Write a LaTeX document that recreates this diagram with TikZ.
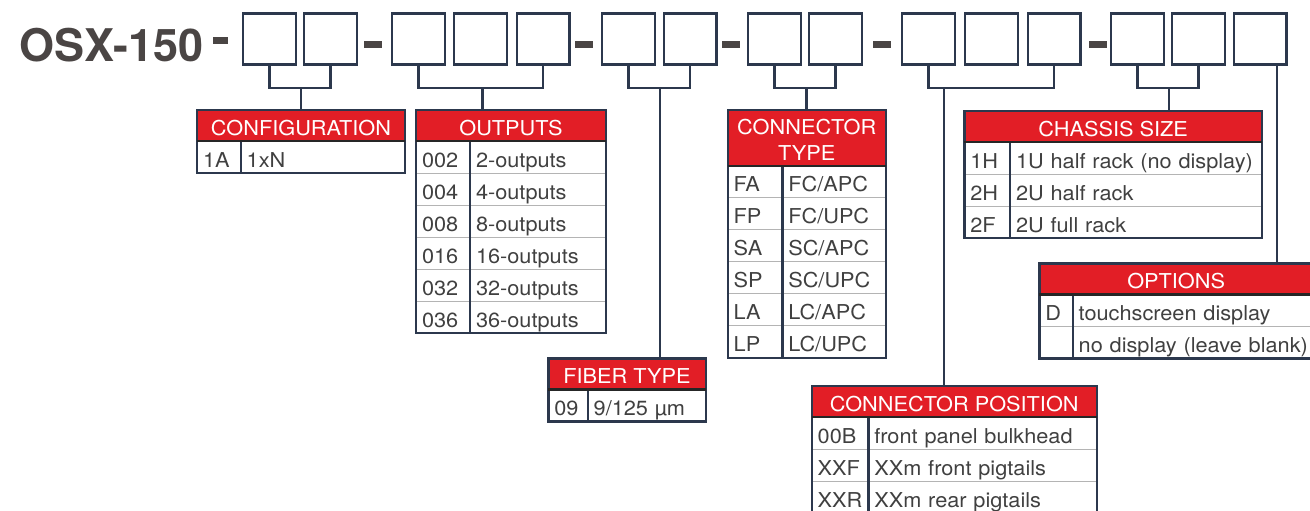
\documentclass[tikz,border=0pt]{standalone}
\usepackage{fontspec}
\setmainfont[FakeStretch=1.06]{TeX Gyre Heros}
\newfontfamily\titelfont{TeX Gyre Heros}
\definecolor{rahmenblau}{HTML}{2C384D}
\definecolor{osxrot}{HTML}{E21E26}
\definecolor{titelgrau}{HTML}{4A4544}
\definecolor{schrift}{HTML}{404040}
\definecolor{zeile}{HTML}{B4B4B4}
\begin{document}
\begin{tikzpicture}[x=1pt,y=-1pt,font=\fontsize{20.5}{25}\selectfont,
	kasten/.style={draw=rahmenblau,line width=2.4pt,minimum width=52.6pt,minimum height=51pt,inner sep=0pt,outer sep=0pt},
	strich/.style={fill=titelgrau,minimum width=18pt,minimum height=7pt,inner sep=0pt},
	linie/.style={draw=rahmenblau,line width=2.2pt},
	kopf/.style={fill=osxrot,draw=rahmenblau,line width=2.4pt,text=white,anchor=north west,inner sep=0pt,outer sep=0pt,minimum height=31pt,text height=20pt,text depth=0pt},
	zelle/.style={draw=zeile,line width=1pt,anchor=north west,outer sep=0pt,inner xsep=6pt,inner ysep=0pt,minimum height=32pt,text width=#1,align=left,text=schrift,text height=20pt,text depth=0pt},
	rahmen/.style={draw=rahmenblau,line width=2.4pt},
	trenner/.style={draw=black!85,line width=2.4pt}]
		\useasboundingbox (0,0) rectangle (1310,511);
		\clip (0,0) rectangle (1310,511);

		% Titel
		\node (titel) at (19,62) [anchor=base west,inner sep=0pt,text=titelgrau,font=\titelfont\fontsize{45}{45}\selectfont\bfseries] {OSX-150};
		\node (s0) at (220.8,41) [strich,minimum width=15pt] {};
		\node (s1) at (373,44.3) [strich] {};
		\node (s2) at (584.3,44.3) [strich] {};
		\node (s3) at (731,44.3) [strich] {};
		\node (s4) at (881.7,44.3) [strich] {};
		\node (s5) at (1097.5,44.3) [strich] {};

		% Kaestchen
		\node (b1) at (269.5,39) [kasten] {};
		\node (b2) at (330.5,39) [kasten] {};
		\node (b3) at (418.5,39) [kasten] {};
		\node (b4) at (480.5,39) [kasten] {};
		\node (b5) at (543,39) [kasten] {};
		\node (b6) at (628.5,39) [kasten] {};
		\node (b7) at (690,39) [kasten] {};
		\node (b8) at (774.5,39) [kasten] {};
		\node (b9) at (835.5,39) [kasten] {};
		\node (b10) at (928.5,39) [kasten] {};
		\node (b11) at (991.5,39) [kasten] {};
		\node (b12) at (1054,39) [kasten] {};
		\node (b13) at (1137.5,39) [kasten] {};
		\node (b14) at (1198.5,39) [kasten] {};
		\node (b15) at (1260,39) [kasten] {};

		% Configuration
		\node (cfg) at (197,110) [kopf,minimum width=208pt] {CONFIGURATION};
		\node (cfgk1) at (cfg.south west) [zelle=31.7pt] {1A};
		\node (cfgw1) at (cfgk1.north east) [zelle=152.3pt] {1xN};
		\draw[rahmen] (cfg.north west) rectangle (cfgw1.south east);
		\draw[rahmen] (cfgk1.north east) -- (cfgk1.south east);
		\draw[trenner] (cfg.south west) -- (cfg.south east);

		% Outputs
		\node (out) at (416,110) [kopf,minimum width=190pt] {OUTPUTS};
		\node (outk1) at (out.south west) [zelle=42pt] {002};
		\node (outw1) at (outk1.north east) [zelle=124pt] {2-outputs};
		\node (outk2) at (outk1.south west) [zelle=42pt] {004};
		\node (outw2) at (outk2.north east) [zelle=124pt] {4-outputs};
		\node (outk3) at (outk2.south west) [zelle=42pt] {008};
		\node (outw3) at (outk3.north east) [zelle=124pt] {8-outputs};
		\node (outk4) at (outk3.south west) [zelle=42pt] {016};
		\node (outw4) at (outk4.north east) [zelle=124pt] {16-outputs};
		\node (outk5) at (outk4.south west) [zelle=42pt] {032};
		\node (outw5) at (outk5.north east) [zelle=124pt] {32-outputs};
		\node (outk6) at (outk5.south west) [zelle=42pt] {036};
		\node (outw6) at (outk6.north east) [zelle=124pt] {36-outputs};
		\draw[rahmen] (out.north west) rectangle (outw6.south east);
		\draw[rahmen] (outk1.north east) -- (outk6.south east);
		\draw[trenner] (out.south west) -- (out.south east);

		% Fiber type
		\node (fib) at (548.3,358.3) [kopf,minimum width=157.4pt] {FIBER TYPE};
		\node (fibk1) at (fib.south west) [zelle=27.4pt] {09};
		\node (fibw1) at (fibk1.north east) [zelle=106pt] {9/125 µm};
		\draw[rahmen] (fib.north west) rectangle (fibw1.south east);
		\draw[rahmen] (fibk1.north east) -- (fibk1.south east);
		\draw[trenner] (fib.south west) -- (fib.south east);

		% Connector type
		\node (ct) at (727.7,110) [kopf,minimum width=158pt,minimum height=55.7pt,align=center,text height=,text depth=] {\rule{0pt}{19.3pt}CONNECTOR\\TYPE};
		\node (ctk1) at (ct.south west) [zelle=42.6pt] {FA};
		\node (ctw1) at (ctk1.north east) [zelle=91.4pt] {FC/APC};
		\node (ctk2) at (ctk1.south west) [zelle=42.6pt] {FP};
		\node (ctw2) at (ctk2.north east) [zelle=91.4pt] {FC/UPC};
		\node (ctk3) at (ctk2.south west) [zelle=42.6pt] {SA};
		\node (ctw3) at (ctk3.north east) [zelle=91.4pt] {SC/APC};
		\node (ctk4) at (ctk3.south west) [zelle=42.6pt] {SP};
		\node (ctw4) at (ctk4.north east) [zelle=91.4pt] {SC/UPC};
		\node (ctk5) at (ctk4.south west) [zelle=42.6pt] {LA};
		\node (ctw5) at (ctk5.north east) [zelle=91.4pt] {LC/APC};
		\node (ctk6) at (ctk5.south west) [zelle=42.6pt] {LP};
		\node (ctw6) at (ctk6.north east) [zelle=91.4pt] {LC/UPC};
		\draw[rahmen] (ct.north west) rectangle (ctw6.south east);
		\draw[rahmen] (ctk1.north east) -- (ctk6.south east);
		\draw[trenner] (ct.south west) -- (ct.south east);

		% Connector position
		\node (cp) at (811.7,386) [kopf,minimum width=285pt] {CONNECTOR POSITION};
		\node (cpk1) at (cp.south west) [zelle=44.6pt] {00B};
		\node (cpw1) at (cpk1.north east) [zelle=216.4pt] {front panel bulkhead};
		\node (cpk2) at (cpk1.south west) [zelle=44.6pt] {XXF};
		\node (cpw2) at (cpk2.north east) [zelle=216.4pt] {XXm front pigtails};
		\node (cpk3) at (cpk2.south west) [zelle=44.6pt] {XXR};
		\node (cpw3) at (cpk3.north east) [zelle=216.4pt] {XXm rear pigtails};
		\draw[rahmen] (cp.north west) rectangle (cpw3.south east);
		\draw[rahmen] (cpk1.north east) -- (cpk3.south east);
		\draw[trenner] (cp.south west) -- (cp.south east);

		% Chassis size
		\node (cs) at (964.3,111) [kopf,minimum width=297.7pt] {CHASSIS SIZE};
		\node (csk1) at (cs.south west) [zelle=33.7pt] {1H};
		\node (csw1) at (csk1.north east) [zelle=240pt] {1U half rack (no display)};
		\node (csk2) at (csk1.south west) [zelle=33.7pt] {2H};
		\node (csw2) at (csk2.north east) [zelle=240pt] {2U half rack};
		\node (csk3) at (csk2.south west) [zelle=33.7pt] {2F};
		\node (csw3) at (csk3.north east) [zelle=240pt] {2U full rack};
		\draw[rahmen] (cs.north west) rectangle (csw3.south east);
		\draw[rahmen] (csk1.north east) -- (csk3.south east);
		\draw[trenner] (cs.south west) -- (cs.south east);

		% Options (rechts angeschnitten)
		\node (opt) at (1039.3,263.3) [kopf,minimum width=273.7pt] {OPTIONS};
		\node (optk1) at (opt.south west) [zelle=21.4pt] {D};
		\node (optw1) at (optk1.north east) [zelle=250pt] {touchscreen display};
		\node (optk2) at (optk1.south west) [zelle=21.4pt] {};
		\node (optw2) at (optk2.north east) [zelle=250pt] {no display (leave blank)};
		\draw[rahmen] (opt.north west) rectangle (optw2.south east);
		\draw[rahmen] (optk1.north east) -- (optk2.south east);
		\draw[trenner] (opt.south west) -- (opt.south east);

		% Klammern
		\coordinate (cfgmitte) at (301,88);
		\coordinate (outmitte) at (482.5,88);
		\coordinate (fibmitte) at (660,88);
		\coordinate (ctmitte) at (806.5,88);
		\coordinate (cpmitte) at (944,88);
		\coordinate (csmitte) at (1169,88);
		\coordinate (optoben) at (1276.7,64.5);
		\draw[linie] (b1.south) |- (cfgmitte) -| (b2.south);
		\draw[linie] (cfgmitte) -- (cfgmitte |- cfg.north);
		\draw[linie] (b3.south) |- (outmitte) -| (b5.south);
		\draw[linie] (outmitte) -- (outmitte |- out.north);
		\draw[linie] (b6.south) |- (fibmitte) -| (b7.south);
		\draw[linie] (fibmitte) -- (fibmitte |- fib.north);
		\draw[linie] (b8.south) |- (ctmitte) -| (b9.south);
		\draw[linie] (ctmitte) -- (ctmitte |- ct.north);
		\draw[linie] (b10.south) |- (cpmitte) -| (b12.south);
		\draw[linie] (cpmitte) -- (cpmitte |- cp.north);
		\draw[linie] (b13.south) |- (csmitte) -| (b14.south);
		\draw[linie] (csmitte) -- (csmitte |- cs.north);
		\draw[linie] (optoben) -- (optoben |- opt.north);
	\end{tikzpicture}
\end{document}
